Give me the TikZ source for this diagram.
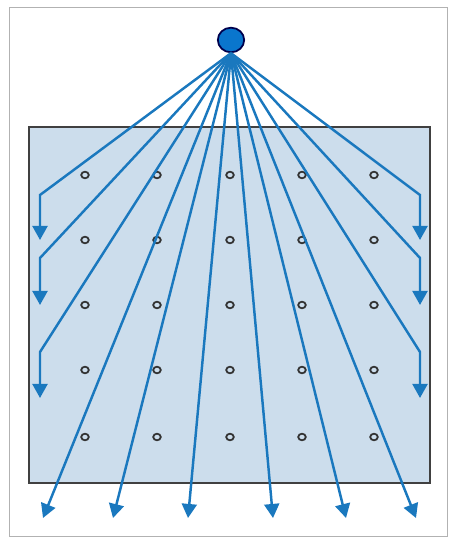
\documentclass[tikz,border=0pt]{standalone}
\usetikzlibrary{arrows.meta,shapes.geometric}

\definecolor{rayblue}{RGB}{26,120,190}
\definecolor{srcblue}{RGB}{10,118,205}
\definecolor{slabblue}{RGB}{204,221,236}

\begin{document}
\begin{tikzpicture}[x=0.02cm,y=-0.02cm,
    ray/.style={rayblue,line width=1.4pt,-{Triangle[length=8pt,width=8.5pt]}},
    hole/.style={draw=black!80,line width=1pt}]
    \useasboundingbox (0,0) rectangle (450,537);
    \draw[gray!60,thin] (9,7) rectangle (447,536);

    % the slab
    \draw[fill=slabblue,draw=black!75,line width=1pt] (29,127) rectangle (430,483);
    \foreach \hx in {85,157,230,302,374}
      \foreach \hy in {175,240,305,370,437}
        \draw[hole] (\hx,\hy) ellipse (3.8 and 3.3);

    % the source
    \node[ellipse,fill=srcblue,draw=blue!30!black,line width=1pt,minimum width=15pt,minimum height=14pt,inner sep=0pt] (src) at (231,40) {};

    \newcommand{\BendL}{40}
    \newcommand{\BendR}{420}
    \coordinate (lb1) at (\BendL,195); \coordinate (le1) at (\BendL,240);
    \coordinate (lb2) at (\BendL,258); \coordinate (le2) at (\BendL,305);
    \coordinate (lb3) at (\BendL,352); \coordinate (le3) at (\BendL,398);
    \coordinate (rb1) at (\BendR,195); \coordinate (re1) at (\BendR,240);
    \coordinate (rb2) at (\BendR,258); \coordinate (re2) at (\BendR,305);
    \coordinate (rb3) at (\BendR,352); \coordinate (re3) at (\BendR,398);
    \coordinate (b1) at (43,518);
    \coordinate (b2) at (113,518);
    \coordinate (b3) at (188,518);
    \coordinate (b4) at (273,518);
    \coordinate (b5) at (346,518);
    \coordinate (b6) at (416,518);

    % bent rays
    \draw[ray] (src.south) -- (lb1) -- (le1);
    \draw[ray] (src.south) -- (lb2) -- (le2);
    \draw[ray] (src.south) -- (lb3) -- (le3);
    \draw[ray] (src.south) -- (rb1) -- (re1);
    \draw[ray] (src.south) -- (rb2) -- (re2);
    \draw[ray] (src.south) -- (rb3) -- (re3);

    % straight rays
    \foreach \b in {b1,b2,b3,b4,b5,b6}
      \draw[ray] (src.south) -- (\b);
\end{tikzpicture}
\end{document}
